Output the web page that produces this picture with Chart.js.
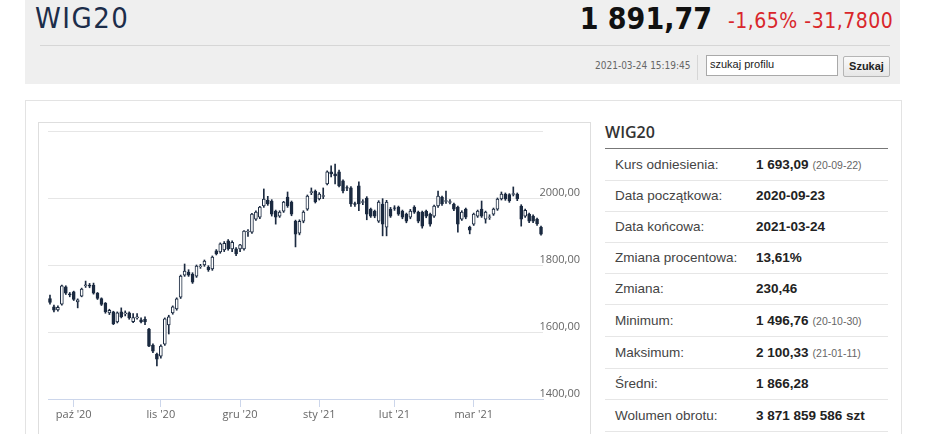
<!DOCTYPE html>
<html><head><meta charset="utf-8">
<script src="https://cdn.jsdelivr.net/npm/chart.js@4/dist/chart.umd.min.js"></script>
<style>
body{margin:0;width:943px;height:434px;overflow:hidden;background:#fff;font-family:"Liberation Sans",Arial,sans-serif;position:relative}
.a{position:absolute;white-space:nowrap}
#hdr{left:25px;top:0;width:875px;height:84px;background:#efefef}
#title{left:35px;top:4px;font-size:29px;line-height:29px;font-family:"DejaVu Sans Condensed","DejaVu Sans";color:#1c2d4a;letter-spacing:1.5px}
#price{right:231px;top:4px;font-size:30px;line-height:30px;font-weight:bold;font-family:"DejaVu Sans Condensed","DejaVu Sans";color:#111}
#chg{left:728px;top:11px;font-size:21px;line-height:21px;font-family:"DejaVu Sans Condensed","DejaVu Sans";color:#d9262b;letter-spacing:0.5px}
#hline{left:40px;top:45px;width:850px;height:1px;background:#d6d6d6}
#ts{left:595px;top:61px;font-size:10px;line-height:10px;font-family:"DejaVu Sans Condensed","DejaVu Sans";color:#666}
#vdiv{left:697px;top:55px;width:1px;height:25px;background:#d6d6d6}
#inp{left:706px;top:55px;height:19px;background:#fff;border:1px solid #a9a9a9;font-size:11px;line-height:17px;color:#222;padding-left:3px;box-sizing:content-box;width:127px}
#btn{left:843px;top:56px;width:45px;height:19px;background:linear-gradient(#fafafa,#e6e6e6);border:1px solid #b5b5b5;border-radius:2px;font-size:11px;line-height:19px;font-weight:bold;text-align:center;color:#222}
#panel{left:25px;top:100px;width:875px;height:400px;border:1px solid #e3e3e3}
#cbox{left:38px;top:122px;width:551px;height:400px;border:1px solid #dedede}
#cwrap{left:39px;top:123px;width:550px;height:311px}
#rh{left:605px;top:124px;font-family:"Open Sans";font-weight:600;font-size:16px;line-height:16px;color:#333}
#rline{left:605px;top:148px;width:283px;height:1px;background:#777}
.row{position:absolute;left:605px;width:283px;border-bottom:1px solid #e6e6e6;font-size:13.5px;color:#444}
.row .l{position:absolute;left:10px;top:0}
.row .v{position:absolute;left:151px;top:0;font-weight:bold;color:#222}
.row .v small{font-weight:normal;font-size:10.5px;color:#666;margin-left:4px}
</style></head>
<body>
<div class="a" id="hdr"></div>
<div class="a" id="title">WIG20</div>
<div class="a" id="price">1 891,77</div>
<div class="a" id="chg">-1,65% -31,7800</div>
<div class="a" id="hline"></div>
<div class="a" id="ts">2021-03-24 15:19:45</div>
<div class="a" id="vdiv"></div>
<div class="a" id="inp">szukaj profilu</div>
<div class="a" id="btn">Szukaj</div>
<div class="a" id="panel"></div>
<div class="a" id="cbox"></div>
<div class="a" id="cwrap"><canvas id="c" width="550" height="311"></canvas></div>
<div class="a" id="rh">WIG20</div>
<div class="a" id="rline"></div>
<div class="row" style="top:149px;height:31px;line-height:31px"><span class="l">Kurs odniesienia:</span><span class="v">1 693,09<small>(20-09-22)</small></span></div>
<div class="row" style="top:181px;height:30px;line-height:30px"><span class="l">Data początkowa:</span><span class="v">2020-09-23</span></div>
<div class="row" style="top:212px;height:30px;line-height:30px"><span class="l">Data końcowa:</span><span class="v">2021-03-24</span></div>
<div class="row" style="top:243px;height:30px;line-height:30px"><span class="l">Zmiana procentowa:</span><span class="v">13,61%</span></div>
<div class="row" style="top:274px;height:30px;line-height:30px"><span class="l">Zmiana:</span><span class="v">230,46</span></div>
<div class="row" style="top:305px;height:31px;line-height:31px"><span class="l">Minimum:</span><span class="v">1 496,76<small>(20-10-30)</small></span></div>
<div class="row" style="top:337px;height:31px;line-height:31px"><span class="l">Maksimum:</span><span class="v">2 100,33<small>(21-01-11)</small></span></div>
<div class="row" style="top:369px;height:30px;line-height:30px"><span class="l">Średni:</span><span class="v">1 866,28</span></div>
<div class="row" style="top:400px;height:31px;line-height:31px"><span class="l">Wolumen obrotu:</span><span class="v">3 871 859 586 szt</span></div>
<script>
const dates = [
'2020-09-23','2020-09-24','2020-09-25','2020-09-28','2020-09-29','2020-09-30',
'2020-10-01','2020-10-02','2020-10-05','2020-10-06','2020-10-07','2020-10-08','2020-10-09','2020-10-12','2020-10-13','2020-10-14','2020-10-15','2020-10-16','2020-10-19','2020-10-20','2020-10-21','2020-10-22','2020-10-23','2020-10-26','2020-10-27','2020-10-28','2020-10-29','2020-10-30',
'2020-11-02','2020-11-03','2020-11-04','2020-11-05','2020-11-06','2020-11-09','2020-11-10','2020-11-12','2020-11-13','2020-11-16','2020-11-17','2020-11-18','2020-11-19','2020-11-20','2020-11-23','2020-11-24','2020-11-25','2020-11-26','2020-11-27','2020-11-30',
'2020-12-01','2020-12-02','2020-12-03','2020-12-04','2020-12-07','2020-12-08','2020-12-09','2020-12-10','2020-12-11','2020-12-14','2020-12-15','2020-12-16','2020-12-17','2020-12-18','2020-12-21','2020-12-22','2020-12-23','2020-12-28','2020-12-29','2020-12-30',
'2021-01-04','2021-01-05','2021-01-07','2021-01-08','2021-01-11','2021-01-12','2021-01-13','2021-01-14','2021-01-15','2021-01-18','2021-01-19','2021-01-20','2021-01-21','2021-01-22','2021-01-25','2021-01-26','2021-01-27','2021-01-28','2021-01-29',
'2021-02-01','2021-02-02','2021-02-03','2021-02-04','2021-02-05','2021-02-08','2021-02-09','2021-02-10','2021-02-11','2021-02-12','2021-02-15','2021-02-16','2021-02-17','2021-02-18','2021-02-19','2021-02-22','2021-02-23','2021-02-24','2021-02-25','2021-02-26',
'2021-03-01','2021-03-02','2021-03-03','2021-03-04','2021-03-05','2021-03-08','2021-03-09','2021-03-10','2021-03-11','2021-03-12','2021-03-15','2021-03-16','2021-03-17','2021-03-18','2021-03-19','2021-03-22','2021-03-23','2021-03-24'];

const open  = [1700,1675,1666,1683,1735,1714, 1720,1690,1707,1738,1740,1740,1716,1700,1686,1657,1660,1630,1660,1654,1657,1631,1642,1636,1638,1609,1561,1534,
 1528,1564,1621,1657,1669,1704,1770,1779,1773,1767,1795,1800,1794,1788,1842,1839,1845,1872,1848,1848,
 1848,1848,1899,1898,1937,1943,1976,1994,1991,1961,1946,1961,2003,1988,1931,1895,1931,1967,2016,2021,
 1997,2005,2042,2078,2072,2078,2051,2031,2030,1983,2036,1987,2000,1967,1961,1931,1982,1913,1967,
 1971,1973,1961,1952,1943,1973,1958,1958,1961,1952,1946,1976,2003,1990,1987,1982,1973,1937,1967,1913,
 1922,1946,1967,1937,1942,1952,1967,1997,2012,2010,2011,2012,1976,1946,1952,1946,1937,1913];
const high  = [1710,1680,1678,1740,1738,1718, 1722,1699,1731,1752,1745,1746,1718,1702,1688,1668,1662,1660,1672,1663,1660,1655,1655,1642,1645,1611,1565,1537,
 1562,1642,1650,1678,1702,1770,1803,1786,1777,1800,1802,1815,1798,1827,1846,1866,1870,1876,1872,1852,
 1862,1903,1906,1954,1962,1975,2027,2005,1995,1964,1962,1990,2018,1991,1934,1935,1962,2009,2030,2024,
 2016,2030,2081,2096,2101,2083,2054,2036,2034,1988,2048,1995,2004,1970,1964,1992,1998,1993,1972,
 1977,1976,1964,1955,1966,1977,1961,1961,1964,1955,1979,2021,2006,2021,1995,1985,1976,1962,1970,1916,
 1955,1964,1991,1961,1950,1970,2000,2018,2015,2013,2033,2015,1980,1967,1955,1950,1940,1916];
const low   = [1683,1660,1662,1680,1712,1705, 1694,1672,1705,1733,1732,1713,1697,1679,1656,1652,1622,1627,1642,1648,1638,1628,1638,1627,1622,1556,1538,1499,
 1522,1560,1594,1653,1665,1700,1766,1766,1745,1763,1790,1796,1781,1784,1830,1835,1840,1844,1840,1828,
 1840,1844,1885,1894,1933,1938,1972,1978,1946,1922,1942,1957,1972,1947,1854,1890,1926,1963,2010,1985,
 1994,1998,2039,2063,2042,2033,2015,2022,1975,1975,1962,1980,1935,1942,1941,1927,1887,1887,1942,
 1963,1948,1938,1926,1938,1954,1926,1910,1941,1916,1942,1972,1978,1984,1982,1962,1898,1933,1938,1893,
 1918,1942,1942,1925,1936,1948,1963,1994,1993,1987,2006,1992,1916,1942,1926,1926,1918,1889];
const close = [1688,1665,1674,1738,1716,1711, 1697,1696,1728,1741,1737,1716,1700,1682,1660,1665,1624,1657,1645,1657,1642,1643,1645,1630,1630,1558,1543,1519,
 1558,1639,1645,1675,1699,1767,1782,1770,1749,1797,1797,1812,1786,1824,1833,1863,1865,1848,1868,1833,
 1860,1901,1901,1952,1958,1973,1997,1982,1952,1943,1958,1988,1976,1952,1892,1930,1958,2006,2019,1988,
 2012,2007,2078,2072,2066,2036,2021,2029,1982,1981,1982,1989,1952,1946,1946,1988,1922,1988,1946,
 1969,1952,1943,1931,1961,1958,1931,1916,1946,1922,1976,2006,1982,1992,1989,1967,1922,1958,1943,1904,
 1952,1961,1946,1958,1944,1967,1997,2012,1997,1991,2013,1997,1937,1963,1931,1931,1923,1892];

const monthStarts = ['2020-10-01','2020-11-02','2020-12-01','2021-01-04','2021-02-01','2021-03-01'];
const monthTicks  = ["paź '20","lis '20","gru '20","sty '21","lut '21","mar '21"];
const yTicks      = [1400, 1600, 1800, 2000, 2200];
const yTickLabels = ['1400,00', '1600,00', '1800,00', '2000,00', ''];

const DARK = '#1b2a40';
const bodies = dates.map((d, i) => [open[i], close[i]]);
const wicks  = dates.map((d, i) => [low[i], high[i]]);
const bodyFill = dates.map((d, i) => close[i] >= open[i] ? '#ffffff' : DARK);

new Chart(document.getElementById('c'), {
  type: 'bar',
  data: {
    labels: dates,
    datasets: [
      { label: 'WIG20', data: bodies, backgroundColor: bodyFill, borderColor: DARK, borderWidth: 1,
        borderSkipped: false, barThickness: 3, grouped: false, order: 0 },
      { label: 'wick', data: wicks, backgroundColor: DARK, borderWidth: 0,
        barThickness: 1, grouped: false, order: 1 }
    ]
  },
  options: {
    responsive: false,
    devicePixelRatio: 1,
    animation: false,
    layout: { padding: { left: 9, top: 8, right: 0, bottom: 0 } },
    plugins: { legend: { display: false }, tooltip: { enabled: false } },
    scales: {
      x: {
        offset: true,
        grid: { display: true, drawOnChartArea: false, drawTicks: true, tickLength: 8, color: '#ccd6eb', offset: false },
        border: { display: true, color: '#ccd6eb' },
        ticks: { autoSkip: false, maxRotation: 0, padding: 1, color: '#666666',
                 font: { family: 'Open Sans', size: 11 },
                 callback: v => monthTicks[monthStarts.indexOf(dates[v])] },
        afterBuildTicks: s => { s.ticks = s.ticks.filter(t => monthStarts.includes(dates[t.value])); },
        afterFit: s => { s.height = 35; s.paddingLeft = 0; s.paddingRight = 0; }
      },
      y: {
        position: 'right', min: 1400, max: 2200,
        afterBuildTicks: s => { s.ticks = yTicks.map(v => ({ value: v })); },
        ticks: { mirror: true, crossAlign: 'near', padding: 37, labelOffset: -5, color: '#666666',
                 font: { family: 'Open Sans', size: 11 },
                 callback: v => yTickLabels[yTicks.indexOf(v)] },
        grid: { drawTicks: false, color: c => (c.tick && c.tick.value === 1400) ? 'rgba(0,0,0,0)' : '#e6e6e6' },
        border: { display: false },
        afterFit: s => { s.width = 46; s.paddingTop = 0; s.paddingBottom = 0; }
      }
    }
  }
});
</script>
</body></html>
